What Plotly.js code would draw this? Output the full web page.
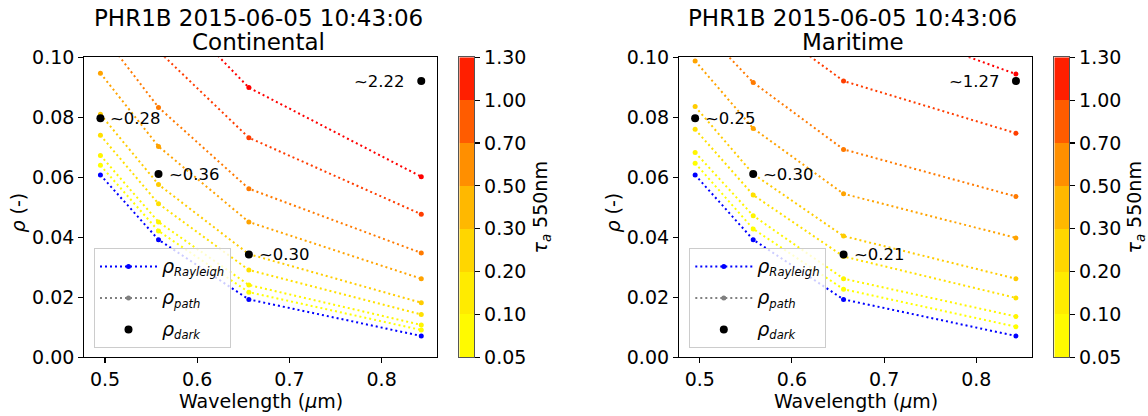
<!DOCTYPE html>
<html>
<head>
<meta charset="utf-8">
<script src="https://cdn.plot.ly/plotly-3.0.1.min.js"></script>
<style>html,body{margin:0;padding:0;background:#fff;}#chart{width:1148px;height:416px;}</style>
</head>
<body>
<div id="chart"></div>
<script>
// ---------------- data ----------------
const bands = [0.495, 0.558, 0.656, 0.843];               // wavelength (um)
const tauLevels = [0.05, 0.1, 0.2, 0.3, 0.5, 0.7, 1.0, 1.3];
const tauTickLabels = ['0.05','0.10','0.20','0.30','0.50','0.70','1.00','1.30'];
const rhoRayleigh = [0.0608, 0.0392, 0.0193, 0.0071];
const rhoDark = [0.0797, 0.0611, 0.0343, 0.0921];
// path reflectance per tau level (rows follow tauLevels)
const contPath = [
  [0.0640, 0.0421, 0.0217, 0.0091],
  [0.0673, 0.0451, 0.0241, 0.0108],
  [0.0740, 0.0512, 0.0291, 0.0143],
  [0.0810, 0.0576, 0.0344, 0.0182],
  [0.0947, 0.0703, 0.0451, 0.0262],
  [0.1085, 0.0833, 0.0562, 0.0348],
  [0.1280, 0.1021, 0.0732, 0.0477],
  [0.1500, 0.1209, 0.0899, 0.0602]
];
const mariPath = [
  [0.0647, 0.0428, 0.0227, 0.0102],
  [0.0683, 0.0472, 0.0262, 0.0136],
  [0.0760, 0.0541, 0.0336, 0.0198],
  [0.0836, 0.0611, 0.0404, 0.0262],
  [0.0988, 0.0763, 0.0545, 0.0398],
  [0.1120, 0.0916, 0.0693, 0.0536],
  [0.1370, 0.1142, 0.0921, 0.0747],
  [0.1650, 0.1400, 0.1152, 0.0944]
];
const contDarkLabels = ['~0.28', '~0.36', '~0.30', '~2.22'];
const mariDarkLabels = ['~0.25', '~0.30', '~0.21', '~1.27'];
const titleLine1 = 'PHR1B 2015-06-05 10:43:06';
const panelNames = ['Continental', 'Maritime'];
const xTitle = 'Wavelength (<i>μ</i>m)';
const yTitle = '<i>ρ</i> (-)';
const cbTitle = '<i>τ</i><sub><i>a</i></sub> 550nm';
const RHO = '<span style="font-size:19px"><i>ρ</i></span>';
const legendNames = [RHO + '<sub><i>Rayleigh</i></sub>', RHO + '<sub><i>path</i></sub>', RHO + '<sub><i>dark</i></sub>'];

// ---------------- styling helpers ----------------
const FONT = 'DejaVu Sans';
const tMin = tauLevels[0], tMax = tauLevels[tauLevels.length - 1];
function autumnR(t) {               // matplotlib autumn_r, Normalize(tMin,tMax)
  const f = Math.min(1, Math.max(0, (t - tMin) / (tMax - tMin)));
  return 'rgb(255,' + Math.round(255 * (1 - f)) + ',0)';
}
const DOTS = '2px,3px';

const traces = [];
function addPanel(xa, ya, pathRows, legendId) {
  traces.push({
    x: bands, y: rhoRayleigh, xaxis: xa, yaxis: ya, type: 'scatter', mode: 'lines+markers',
    name: legendNames[0], legend: legendId, legendgroup: 'r',
    line: {color: '#0000ff', width: 2, dash: DOTS}, marker: {color: '#0000ff', size: 5},
    hoverinfo: 'skip'
  });
  pathRows.forEach((row, i) => {
    traces.push({
      x: bands, y: row, xaxis: xa, yaxis: ya, type: 'scatter', mode: 'lines+markers',
      showlegend: false, legend: legendId,
      line: {color: autumnR(tauLevels[i]), width: 2, dash: DOTS},
      marker: {color: autumnR(tauLevels[i]), size: 5}, hoverinfo: 'skip'
    });
  });
  traces.push({
    x: [null], y: [null], xaxis: xa, yaxis: ya, type: 'scatter', mode: 'lines+markers',
    name: legendNames[1], legend: legendId, legendgroup: 'p',
    line: {color: '#808080', width: 2, dash: DOTS}, marker: {color: '#808080', size: 5}
  });
  traces.push({
    x: bands, y: rhoDark, xaxis: xa, yaxis: ya, type: 'scatter', mode: 'markers',
    name: legendNames[2], legend: legendId, legendgroup: 'd',
    marker: {color: '#000000', size: 8}, hoverinfo: 'skip'
  });
}
addPanel('x', 'y', contPath, 'legend');
addPanel('x2', 'y2', mariPath, 'legend2');

// colour bars drawn as heatmaps from the tau bins
const binCenters = tauLevels.slice(0, -1).map((_, i) => i + 0.5);
const binMid = tauLevels.slice(0, -1).map((t, i) => [(t + tauLevels[i + 1]) / 2]);
[['x3', 'y3'], ['x4', 'y4']].forEach(([xa, ya]) => {
  traces.push({
    type: 'heatmap', x: [0], y: binCenters, z: binMid, xaxis: xa, yaxis: ya,
    colorscale: [[0, '#ffff00'], [1, '#ff0000']], zmin: tMin, zmax: tMax,
    showscale: false, hoverinfo: 'skip'
  });
});

// ---------------- layout ----------------
const W = 1148, H = 416;
const px = v => v / W, py = v => 1 - v / H;
const plotTop = 57.3, plotBot = 357.3;
const yDom = [py(plotBot), py(plotTop)];

function dataX(dom) {
  return {
    domain: dom, range: [0.4775, 0.8604], tick0: 0.5, dtick: 0.1, tickformat: '.1f',
    showline: true, mirror: true, linecolor: '#000', linewidth: 1.1,
    ticks: 'outside', ticklen: 5, tickwidth: 1.1, tickcolor: '#000',
    showgrid: false, zeroline: false, fixedrange: true,
    tickfont: {family: FONT, size: 19, color: '#000'}
  };
}
function dataY(anchor) {
  return {
    domain: yDom, anchor: anchor, range: [0, 0.1], tick0: 0, dtick: 0.02, tickformat: '.2f',
    showline: true, mirror: true, linecolor: '#000', linewidth: 1.1,
    ticks: 'outside', ticklen: 5, tickwidth: 1.1, tickcolor: '#000',
    showgrid: false, zeroline: false, fixedrange: true,
    tickfont: {family: FONT, size: 19, color: '#000'}
  };
}
function cbX(dom) {
  return {domain: dom, range: [-0.5, 0.5], showticklabels: false, ticks: '', showgrid: false,
          zeroline: false, showline: true, mirror: true, linecolor: '#555', linewidth: 1, fixedrange: true};
}
function cbY(anchor) {
  return {
    domain: yDom, anchor: anchor, side: 'right', range: [0, tauLevels.length - 1],
    tickvals: tauLevels.map((_, i) => i), ticktext: tauTickLabels,
    showline: true, mirror: true, linecolor: '#555', linewidth: 1,
    ticks: 'outside', ticklen: 5, tickwidth: 1.1, tickcolor: '#000',
    showgrid: false, zeroline: false, fixedrange: true,
    tickfont: {family: FONT, size: 19, color: '#000'},
    title: {text: cbTitle, font: {family: FONT, size: 19, color: '#000'}, standoff: 8}
  };
}

const annotations = [];
const titleCenters = [px(258), px(853)];
const plotCenters = [px((84.3 + 437.3) / 2), px((679 + 1032) / 2)];
const yTitleX = [px(17.5), px(612.5)];
titleCenters.forEach((cx, k) => {
  annotations.push({xref: 'paper', yref: 'paper', x: cx, y: py(17.5), xanchor: 'center', yanchor: 'middle',
    text: titleLine1, showarrow: false, font: {family: FONT, size: 23, color: '#000'}});
  annotations.push({xref: 'paper', yref: 'paper', x: cx, y: py(41.5), xanchor: 'center', yanchor: 'middle',
    text: panelNames[k], showarrow: false, font: {family: FONT, size: 23, color: '#000'}});
  annotations.push({xref: 'paper', yref: 'paper', x: plotCenters[k], y: py(400.5), xanchor: 'center', yanchor: 'middle',
    text: xTitle, showarrow: false, font: {family: FONT, size: 19, color: '#000'}});
  annotations.push({xref: 'paper', yref: 'paper', x: yTitleX[k], y: py(213), xanchor: 'center', yanchor: 'middle',
    text: yTitle, textangle: -90, showarrow: false, font: {family: FONT, size: 19, color: '#000'}});
});
[[contDarkLabels, 'x', 'y'], [mariDarkLabels, 'x2', 'y2']].forEach(([labels, xa, ya]) => {
  labels.forEach((lab, i) => {
    const last = i === labels.length - 1;
    annotations.push({xref: xa, yref: ya, x: bands[i], y: rhoDark[i], text: lab, showarrow: false,
      xanchor: last ? 'right' : 'left', yanchor: 'middle', xshift: last ? -14 : 8,
      font: {family: FONT, size: 16.5, color: '#000'}});
  });
});

function legendCfg(x) {
  return {x: x, y: py(348.3), xanchor: 'left', yanchor: 'bottom', orientation: 'v',
    bgcolor: 'rgba(255,255,255,0.8)', bordercolor: '#cccccc', borderwidth: 1,
    traceorder: 'grouped', tracegroupgap: 7,
    font: {family: FONT, size: 16.5, color: '#000'}, itemwidth: 57};
}

const layout = {
  width: W, height: H, margin: {l: 0, r: 0, t: 0, b: 0},
  paper_bgcolor: '#fff', plot_bgcolor: '#fff',
  font: {family: FONT, size: 19, color: '#000'},
  showlegend: true,
  xaxis: Object.assign(dataX([px(84.3), px(437.3)]), {anchor: 'y'}),
  yaxis: dataY('x'),
  xaxis2: Object.assign(dataX([px(679), px(1032)]), {anchor: 'y2'}),
  yaxis2: dataY('x2'),
  xaxis3: Object.assign(cbX([px(459.3), px(474.3)]), {anchor: 'y3'}),
  yaxis3: cbY('x3'),
  xaxis4: Object.assign(cbX([px(1054.3), px(1069.3)]), {anchor: 'y4'}),
  yaxis4: cbY('x4'),
  legend: legendCfg(px(94)),
  legend2: legendCfg(px(689.3)),
  annotations: annotations
};

Plotly.newPlot('chart', traces, layout, {staticPlot: true, displayModeBar: false});
</script>
</body>
</html>
